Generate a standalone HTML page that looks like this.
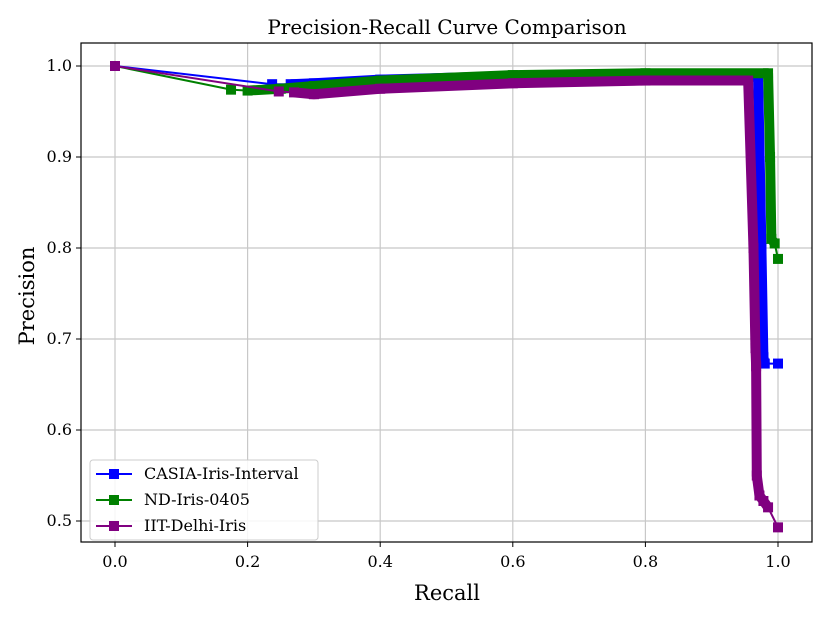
<!DOCTYPE html>
<html><head><meta charset="utf-8"><style>
body{margin:0;background:#fff;}
svg{font-family:"DejaVu Serif","Liberation Serif",serif;}
</style></head><body>
<svg id="chart" width="830" height="623">
<text x="447" y="34" text-anchor="middle" font-size="20">Precision-Recall Curve Comparison</text>
<g id="grid"></g><g id="series"></g><g id="axes"></g>
<text x="447" y="600" text-anchor="middle" font-size="21">Recall</text>
<text x="34" y="296" text-anchor="middle" font-size="21" transform="rotate(-90 34 296)">Precision</text>
<g id="legend"></g>
</svg>
<script>
const xTicks=[0,0.2,0.4,0.6,0.8,1.0];
const xTickLabels=["0.0","0.2","0.4","0.6","0.8","1.0"];
const yTicks=[0.5,0.6,0.7,0.8,0.9,1.0];
const yTickLabels=["0.5","0.6","0.7","0.8","0.9","1.0"];
const seriesNames=["CASIA-Iris-Interval","ND-Iris-0405","IIT-Delhi-Iris"];
const seriesColors=["#0000ff","#008000","#800080"];
const casiaRecall=[0,0.237,0.265,0.3,0.4,0.6,0.8,0.97,0.975,0.978,0.98,1.0];
const casiaPrecision=[1.0,0.980,0.980,0.981,0.985,0.989,0.990,0.988,0.80,0.68,0.673,0.673];
const ndRecall=[0,0.175,0.2,0.25,0.3,0.4,0.6,0.8,0.985,0.988,0.99,0.995,1.0];
const ndPrecision=[1.0,0.974,0.973,0.975,0.978,0.984,0.990,0.992,0.992,0.90,0.81,0.805,0.788];
const iitRecall=[0,0.247,0.27,0.3,0.4,0.6,0.8,0.955,0.963,0.966,0.967,0.968,0.972,0.978,0.985,1.0];
const iitPrecision=[1.0,0.972,0.971,0.969,0.975,0.981,0.984,0.984,0.80,0.69,0.67,0.55,0.528,0.522,0.515,0.493];
const denseStart=[2,2,2];
const denseEnd=[10,11,14];

const NS="http://www.w3.org/2000/svg";
const L=81,R=812,T=43,B=542;
const X=r=>115+663*r;
const Y=p=>66+(1-p)*910;
function mk(t,a,p){const e=document.createElementNS(NS,t);for(const k in a)e.setAttribute(k,a[k]);p.appendChild(e);return e;}
const grid=document.getElementById('grid'),axes=document.getElementById('axes'),ser=document.getElementById('series'),leg=document.getElementById('legend');
xTicks.forEach((v,i)=>{
 const g=mk('line',{x1:X(v),x2:X(v),y1:T,y2:B,stroke:'#c8c8c8','stroke-width':1.2},grid);
 
 mk('line',{x1:X(v),x2:X(v),y1:B,y2:B+5,stroke:'#000'},axes);
 const t=mk('text',{x:X(v),y:B+25,'text-anchor':'middle','font-size':16},axes);t.textContent=xTickLabels[i];
 
});
yTicks.forEach((v,i)=>{
 const g=mk('line',{x1:L,x2:R,y1:Y(v),y2:Y(v),stroke:'#c8c8c8','stroke-width':1.2},grid);
 
 mk('line',{x1:L-5,x2:L,y1:Y(v),y2:Y(v),stroke:'#000'},axes);
 const t=mk('text',{x:L-9,y:Y(v)+5,'text-anchor':'end','font-size':16},axes);t.textContent=yTickLabels[i];
 
});
const fr=mk('rect',{x:L,y:T,width:R-L,height:B-T,fill:'none',stroke:'#000','stroke-width':1.2},axes);

const allR=[casiaRecall,ndRecall,iitRecall],allP=[casiaPrecision,ndPrecision,iitPrecision];
allR.forEach((rs,s)=>{
 const ps=allP[s],c=seriesColors[s];
 const g=mk('g',{},ser);
 const pts=rs.map((r,i)=>X(r)+','+Y(ps[i])).join(' ');
 mk('polyline',{points:pts,fill:'none',stroke:c,'stroke-width':2},g);
 const dpts=rs.slice(denseStart[s],denseEnd[s]+1).map((r,i)=>X(r)+','+Y(ps[i+denseStart[s]])).join(' ');
 const d=mk('polyline',{points:dpts,fill:'none',stroke:c,'stroke-width':10,'stroke-linejoin':'round'},g);
 
 rs.forEach((r,i)=>{const m=mk('rect',{x:X(r)-5,y:Y(ps[i])-5,width:10,height:10,fill:c},g);
  });
});
mk('rect',{x:90,y:460,width:228,height:80,rx:3,fill:'#fff','fill-opacity':0.85,stroke:'#ccc'},leg);
seriesNames.forEach((n,i)=>{
 const y=474+i*26;
 const g=mk('g',{},leg);
 mk('line',{x1:96,x2:132,y1:y,y2:y,stroke:seriesColors[i],'stroke-width':2},g);
 mk('rect',{x:109,y:y-5,width:10,height:10,fill:seriesColors[i]},g);
 const t=mk('text',{x:144,y:y+5,'font-size':16},g);t.textContent=n;
});
</script>
</body></html>
